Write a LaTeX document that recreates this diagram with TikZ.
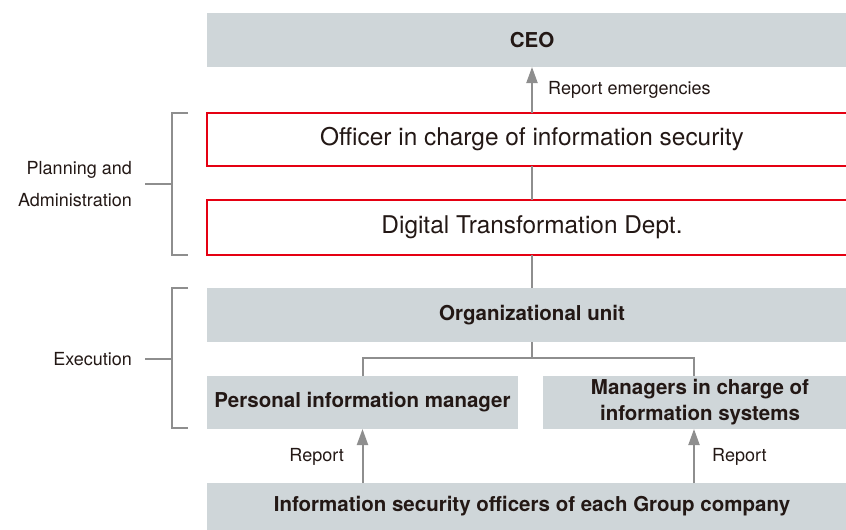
\documentclass[tikz,border=0pt]{standalone}
\usepackage{fontspec}
\setmainfont{TeX Gyre Heros}
\usetikzlibrary{arrows.meta}
\definecolor{boxgray}{HTML}{CFD6D9}
\definecolor{secred}{HTML}{E50012}
\definecolor{linegray}{HTML}{8E8E8E}
\definecolor{txt}{HTML}{231815}
\begin{document}
\begin{tikzpicture}[x=1pt,y=-1pt,
  graybox/.style={fill=boxgray,draw=none,inner sep=0pt,outer sep=0pt,align=center,
    font=\fontsize{20.5}{26}\selectfont\bfseries,text=txt},
  redbox/.style={fill=white,draw=secred,line width=2pt,inner sep=0pt,outer sep=0pt,
    font=\fontsize{24.4}{28}\selectfont,text=txt},
  lbl/.style={font=\fontsize{18}{32}\selectfont,text=txt,inner sep=0pt},
  conn/.style={draw=linegray,line width=2pt},
  arr/.style={conn,-{Triangle[length=16pt,width=11pt]}},
  brk/.style={draw=linegray,line width=1.5pt}]
\clip (0,0) rectangle (846,530);
\useasboundingbox (0,0) rectangle (846,530);
% boxes
\node[graybox,minimum width=650pt,minimum height=54pt] (ceo) at (532,40) {CEO};
\node[redbox,minimum width=650pt,minimum height=53pt] (off) at (532,139.5) {Officer in charge of information security};
\node[redbox,minimum width=650pt,minimum height=55pt] (dx) at (532,227.5) {Digital Transformation Dept.};
\node[graybox,minimum width=650pt,minimum height=54pt] (org) at (532,315) {Organizational unit};
\node[graybox,minimum width=311pt,minimum height=53pt] (pim) at (362.5,402.5) {Personal information manager};
\node[graybox,minimum width=314pt,minimum height=53pt] (mgr) at (700,402.5) {Managers in charge of\\information systems};
\node[graybox,minimum width=650pt,minimum height=47pt] (bot) at (532,506.5) {Information security officers of each Group company};
% connectors
\coordinate (jr) at (694,358);
\draw[arr] (off.north) -- (ceo.south);
\node[lbl,anchor=west] (rem) at (548,90) {Report emergencies};
\draw[conn] (off.south) -- (dx.north);
\draw[conn] (dx.south) -- (org.north);
\draw[conn] (org.south) -- (org.south |- jr);
\draw[conn] (pim.north) |- (jr) -- (mgr.north -| jr);
\draw[arr] (bot.north -| pim.south) -- (pim.south);
\draw[arr] (bot.north -| jr) -- (mgr.south -| jr);
\node[lbl,anchor=east] (rl) at (344,457) {Report};
\node[lbl,anchor=west] (rr) at (712,457) {Report};
% brackets
\draw[brk] (188,113) -- (172,113) -- (172,255) -- (188,255);
\draw[brk] (145,184) -- (172,184);
\node[lbl,anchor=east,align=right] (pa) at (132,184) {Planning and\\Administration};
\draw[brk] (188,288) -- (172,288) -- (172,428) -- (188,428);
\draw[brk] (145,359) -- (172,359);
\node[lbl,anchor=east] (ex) at (132,359) {Execution};
\end{tikzpicture}
\end{document}
